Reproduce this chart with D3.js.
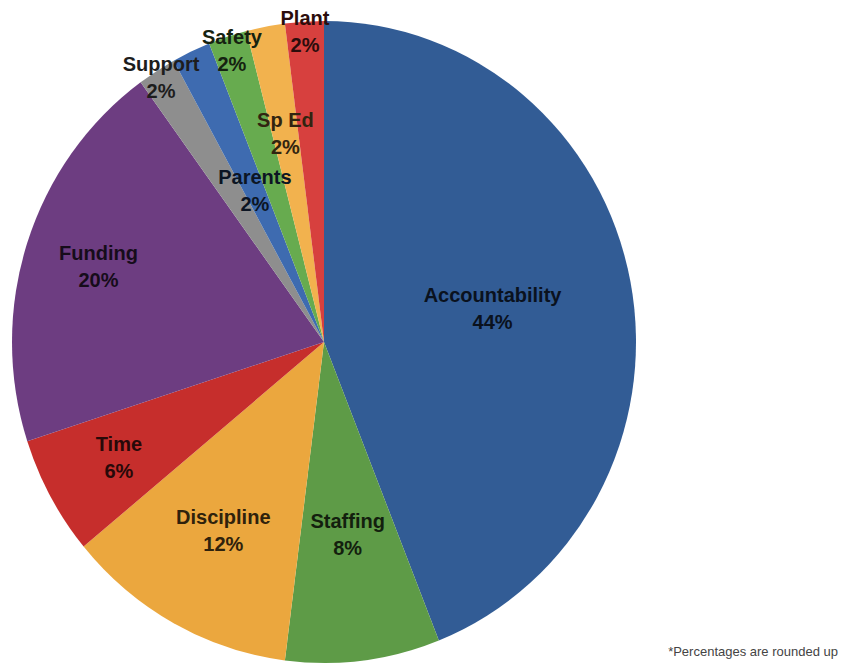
<!DOCTYPE html>
<html>
<head>
<meta charset="utf-8">
<script src="https://cdn.jsdelivr.net/npm/d3@7"></script>
<style>
  body { margin: 0; background: #fff; }
  svg { display: block; }
</style>
</head>
<body>
<div id="chart"></div>
<script>
// chart data
var categories = ["Accountability", "Staffing", "Discipline", "Time", "Funding",
                  "Support", "Parents", "Safety", "Sp Ed", "Plant"];
var percents = [44, 8, 12, 6, 20, 2, 2, 2, 2, 2];
var colors = ["#325c95", "#5e9b47", "#eba73e", "#c62e2c", "#6d3d81",
              "#8e8e8e", "#3e6bb0", "#67ab4f", "#f2b24e", "#d7403e"];
var footnote = "*Percentages are rounded up";

// how far out each label sits, as a share of the radius
var labelRadius = [0.55, 0.605, 0.67, 0.75, 0.76, 0.975, 0.52, 0.955, 0.66, 0.97];

var width = 841, height = 669;
var cx = 324, cy = 342, R = 312;
var sy = 321 / 312; // the picture is a little taller than wide

var svg = d3.select("#chart").append("svg")
    .attr("width", width)
    .attr("height", height);

var pie = d3.pie().sort(null).value(function (d) { return d; });
var arcs = pie(percents);

var arc = d3.arc().innerRadius(0).outerRadius(R);

var slices = svg.append("g")
    .attr("transform", "translate(" + cx + "," + cy + ") scale(1," + sy + ")");

slices.selectAll("path")
    .data(arcs)
    .enter()
    .append("path")
    .attr("d", arc)
    .attr("fill", function (d, i) { return colors[i]; });

var labels = svg.append("g")
    .attr("font-family", "'Liberation Sans', Arial, Helvetica, sans-serif")
    .attr("font-weight", "bold")
    .attr("font-size", 20)
    .attr("text-anchor", "middle");

arcs.forEach(function (d, i) {
    var a = (d.startAngle + d.endAngle) / 2;
    var r = labelRadius[i] * R;
    var x = cx + r * Math.sin(a);
    var y = cy - r * Math.cos(a) * sy;
    // text is a very dark shade of its slice
    var c = d3.color(colors[i]).darker(4.5).toString();
    var t = labels.append("text").attr("fill", c);
    t.append("tspan").attr("x", x).attr("y", y - 6.5).text(categories[i]);
    t.append("tspan").attr("x", x).attr("y", y + 20.5).text(percents[i] + "%");
});

svg.append("text")
    .attr("x", 838)
    .attr("y", 656)
    .attr("text-anchor", "end")
    .attr("font-family", "'Liberation Sans Narrow', 'Liberation Sans', Arial, sans-serif")
    .attr("font-size", 13)
    .attr("fill", "#444")
    .text(footnote);
</script>
</body>
</html>
